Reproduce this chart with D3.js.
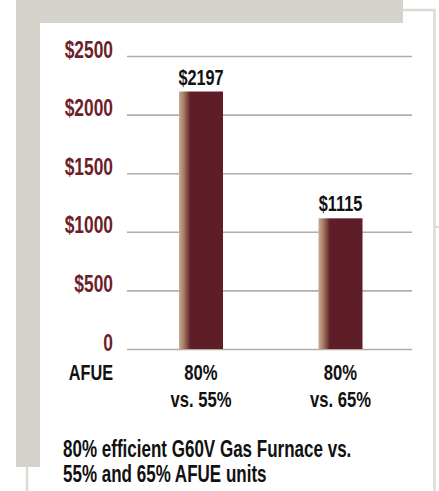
<!DOCTYPE html>
<html><head><meta charset="utf-8">
<script src="https://cdn.jsdelivr.net/npm/d3@7"></script>
<style>
html,body{margin:0;padding:0;background:#fff;}
svg{display:block;}
text{font-family:"Liberation Sans",Arial,sans-serif;font-weight:bold;}
</style></head><body>
<svg id="c" width="439" height="491"></svg>
<script>
const categories = ["80% vs. 55%", "80% vs. 65%"];
const categoryLines = [["80%", "vs. 55%"], ["80%", "vs. 65%"]];
const values = [2197, 1115];
const tickValues = [0, 500, 1000, 1500, 2000, 2500];
const tickLabels = ["0", "$500", "$1000", "$1500", "$2000", "$2500"];
const axisTitle = "AFUE";
const caption = ["80% efficient G60V Gas Furnace vs.", "55% and 65% AFUE units"];

const SX = 0.74;
const svg = d3.select("#c");
const gray = "#d6d3cc";

function cText(parent, x, y, str, size, anchor, fill) {
  return parent.append("text")
    .attr("transform", `translate(${x},${y}) scale(${SX},1)`)
    .attr("text-anchor", anchor).attr("font-size", size).attr("fill", fill)
    .text(str);
}

// frame decorations
svg.append("path").attr("d", "M403,10 H434.5 V491").attr("fill","none").attr("stroke","#dcdad5").attr("stroke-width",2.5);
svg.append("line").attr("x1",435).attr("x2",439).attr("y1",227).attr("y2",227).attr("stroke","#dcdad5").attr("stroke-width",2);
svg.append("line").attr("x1",27).attr("x2",27).attr("y1",467).attr("y2",491).attr("stroke","#dcdad5").attr("stroke-width",2.5);
svg.append("rect").attr("x",16).attr("y",0).attr("width",387).attr("height",23).attr("fill",gray);
svg.append("rect").attr("x",16).attr("y",0).attr("width",24).attr("height",467).attr("fill",gray);

const y = d3.scaleLinear().domain([0, 2500]).range([349, 56]);
const x = d3.scalePoint().domain(categories).range([201, 340.5]);
const bw = 44;

const defs = svg.append("defs");
const grad = defs.append("linearGradient").attr("id","bg").attr("x1","0").attr("x2","1").attr("y1","0").attr("y2","0");
grad.append("stop").attr("offset","0").attr("stop-color","#c9aa93");
grad.append("stop").attr("offset","0.1").attr("stop-color","#a98068");
grad.append("stop").attr("offset","0.26").attr("stop-color","#5e1e27");
grad.append("stop").attr("offset","1").attr("stop-color","#5e1e27");

const ax = svg.append("g").attr("transform","translate(127,0)")
  .call(d3.axisLeft(y).tickValues(tickValues).tickSize(-285).tickPadding(14)
    .tickFormat((d,i) => tickLabels[i]));
ax.select(".domain").remove();
ax.selectAll(".tick line").attr("stroke","#b3ada3").attr("stroke-width",1.6);
ax.selectAll(".tick text").attr("fill","#6c1f2a").attr("font-size",23.5)
  .attr("x", -14 / SX).attr("dy", "1").attr("transform", `scale(${SX},1)`);

svg.append("g").selectAll("rect").data(values).join("rect")
  .attr("x",(d,i)=>x(categories[i]) - bw/2)
  .attr("width",bw)
  .attr("y",d=>y(d))
  .attr("height",d=>y(0)-y(d))
  .attr("fill","url(#bg)");

const lab = svg.append("g");
values.forEach((v,i)=>cText(lab, x(categories[i]), y(v)-7, "$"+v, 22, "middle", "#111"));

cText(svg, 113, 380, axisTitle, 22, "end", "#111");

categories.forEach((c,i)=>{
  categoryLines[i].forEach((t,j)=>{
    cText(svg, x(c), 380+27*j, t, 22.5, "middle", "#111");
  });
});

caption.forEach((t,j)=>{
  cText(svg, 63, 457+25*j, t, 23, "start", "#111");
});
</script></body></html>
